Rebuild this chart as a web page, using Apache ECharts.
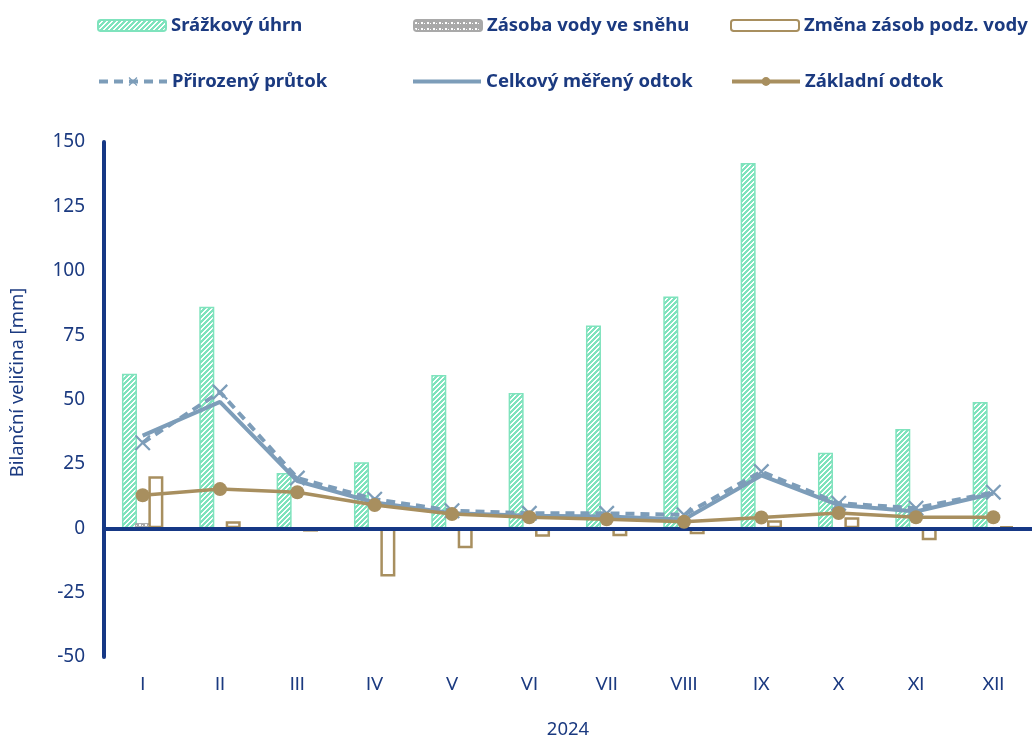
<!DOCTYPE html>
<html><head><meta charset="utf-8">
<script src="https://cdn.jsdelivr.net/npm/echarts@6/dist/echarts.min.js"></script>
<style>html,body{margin:0;padding:0;background:#fff}#c{width:1032px;height:736px}</style>
</head><body><div id="c"></div>
<script>
const categories = ['I','II','III','IV','V','VI','VII','VIII','IX','X','XI','XII'];
const srazky = [60, 86, 21.5, 25.6, 59.5, 52.5, 78.7, 90, 141.8, 29.3, 38.5, 49];
const snih = [2, 0, 0, 0, 0, 0, 0, 0, 0, 0, 0, 0];
const zmenaZasob = [20.2, 2.7, -1.3, -18.7, -7.8, -3.3, -3.1, -2.3, 3.1, 4.3, -4.7, 0.8];
const prirozeny = [33.2, 52.9, 19.5, 11.3, 6.8, 5.8, 5.8, 5.2, 22, 9.7, 7.8, 14];
const celkovy = [36, 49.1, 18.3, 10, 5.8, 4.9, 4.6, 3.4, 20.5, 9, 6.5, 13.5];
const zakladni = [12.8, 15.2, 14, 9, 5.5, 4.3, 3.5, 2.5, 4.2, 5.9, 4.3, 4.3];
const yTicks = {min: -50, max: 150, interval: 25};
const xName = '2024';
const yName = 'Bilanční veličina [mm]';

const TXT = '#1b3a80', AX = '#163885', BLUE = '#7d9db9', BROWN = '#a88f5f', GREEN = '#7fe3bd';
const FONT = '"Noto Sans", Lato, sans-serif';
const FONT2 = 'Lato, "Open Sans", sans-serif';

function stripe() {
  const n = 5;
  const c = document.createElement('canvas'); c.width = n; c.height = n;
  const g = c.getContext('2d');
  g.fillStyle = GREEN; g.fillRect(0,0,n,n);
  g.fillStyle = '#ffffff';
  for (let i = 0; i < n; i++) {
    g.fillRect((n - 1 - i + n) % n, i, 1, 1);
    g.fillRect((n - i + n) % n, i, 1, 1);
  }
  return c;
}
function dots() {
  const c = document.createElement('canvas'); c.width = 6; c.height = 6;
  const g = c.getContext('2d');
  g.fillStyle = '#a9a9a9'; g.fillRect(0,0,6,6);
  g.fillStyle = '#ffffff';
  g.fillRect(1,2,2,2); g.fillRect(4,3,1,1);
  return c;
}
const crossPath = 'path://M0,1L1,0L10,9L9,10ZM9,0L10,1L1,10L0,9Z';

const chart = echarts.init(document.getElementById('c'), null, {renderer: 'canvas'});
const legendText = {color: TXT, fontFamily: FONT, fontWeight: 'bold', fontSize: 18.5};
function lg(name, left, top, extra) {
  return Object.assign({data: [name], left: left, top: top, itemWidth: 68, itemHeight: 11, itemGap: 0,
    textStyle: legendText, selectedMode: false, padding: 0, lineStyle: {width: 4}}, extra || {});
}
chart.setOption({
  animation: false,
  textStyle: {fontFamily: FONT},
  legend: [
    lg('Srážkový úhrn', 97, 16),
    lg('Zásoba vody ve sněhu', 413, 16),
    lg('Změna zásob podz. vody', 730, 16),
    lg('Přirozený průtok', 97, 72),
    lg('Celkový měřený odtok', 413, 72, {icon: 'rect', itemHeight: 4}),
    lg('Základní odtok', 730, 72)
  ],
  grid: {left: 104, right: 0, top: 142, bottom: 79, containLabel: false, outerBoundsMode: 'none'},
  xAxis: {
    type: 'category', data: categories,
    axisLine: {show: false}, axisTick: {show: false},
    axisLabel: {color: TXT, fontSize: 18, margin: 18, fontFamily: FONT2},
    name: xName, nameLocation: 'middle', nameGap: 63,
    nameTextStyle: {color: TXT, fontSize: 18.5, fontFamily: FONT}
  },
  yAxis: {
    type: 'value', min: yTicks.min, max: yTicks.max, interval: yTicks.interval,
    axisLine: {show: true, lineStyle: {color: AX, width: 4}},
    axisTick: {show: false}, splitLine: {show: false},
    axisLabel: {color: TXT, fontSize: 19, margin: 19, fontFamily: FONT},
    name: yName, nameLocation: 'middle', nameRotate: 90, nameGap: 77,
    nameTextStyle: {color: TXT, fontSize: 18.5, fontFamily: FONT, padding: [0, 0, 0, 34]}
  },
  series: [
    {name: 'Srážkový úhrn', type: 'bar', data: srazky, barWidth: 15, barGap: '-12%',
      itemStyle: {color: {image: stripe(), repeat: 'repeat'}, borderColor: GREEN, borderWidth: 1.5}},
    {name: 'Zásoba vody ve sněhu', type: 'bar', data: snih, barWidth: 15, barGap: '-12%',
      itemStyle: {color: {image: dots(), repeat: 'repeat'}, borderColor: '#a9a9a9', borderWidth: 1}},
    {name: 'Změna zásob podz. vody', type: 'bar', data: zmenaZasob, barWidth: 15, barGap: '-12%',
      itemStyle: {color: '#ffffff', borderColor: BROWN, borderWidth: 2.5},
      markLine: {silent: true, symbol: 'none', label: {show: false},
        lineStyle: {color: AX, width: 4, type: 'solid'}, data: [{yAxis: 0}]}},
    {name: 'Přirozený průtok', type: 'line', data: prirozeny, symbol: crossPath, symbolSize: 16,
      itemStyle: {color: BLUE}, lineStyle: {color: BLUE, width: 4, type: [9, 6]}, z: 5},
    {name: 'Celkový měřený odtok', type: 'line', data: celkovy, symbol: 'none', showSymbol: false,
      itemStyle: {color: BLUE}, lineStyle: {color: BLUE, width: 4}, z: 5},
    {name: 'Základní odtok', type: 'line', data: zakladni, symbol: 'circle', symbolSize: 14,
      itemStyle: {color: BROWN}, lineStyle: {color: BROWN, width: 3.5}, z: 6}
  ]
});
</script></body></html>
